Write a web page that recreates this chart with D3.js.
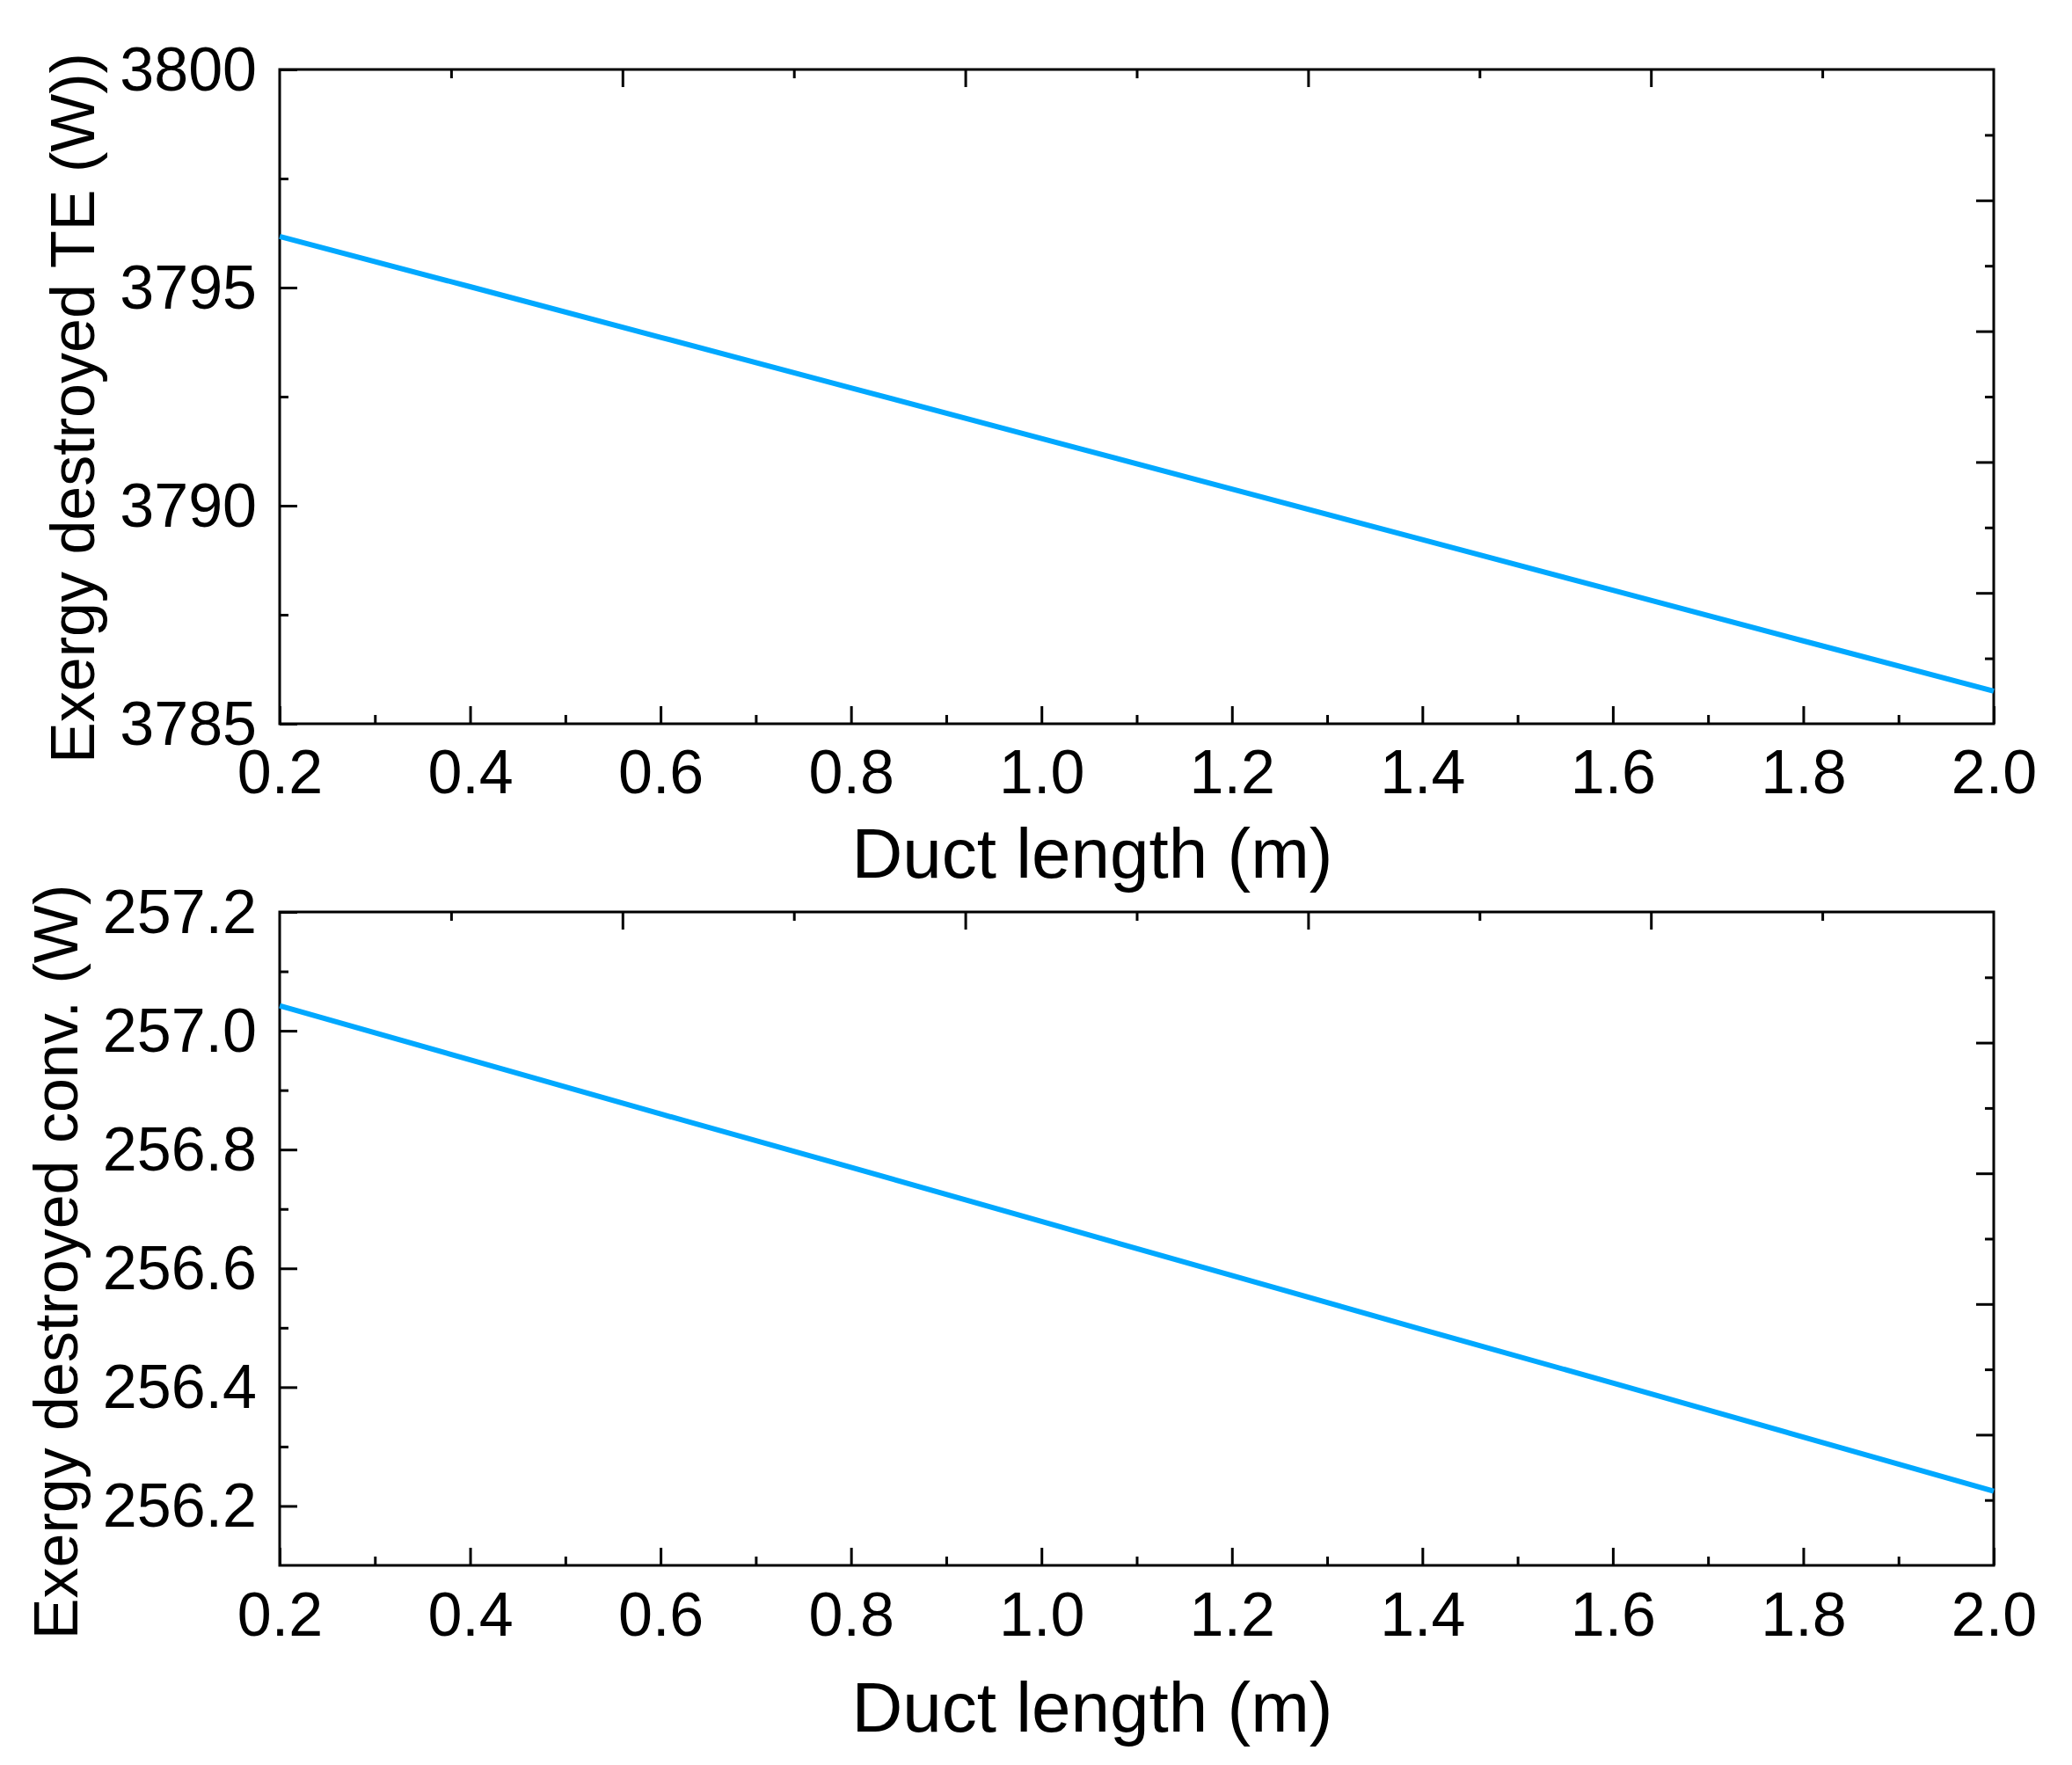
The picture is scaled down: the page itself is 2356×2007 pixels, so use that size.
<!DOCTYPE html>
<html>
<head>
<meta charset="utf-8">
<script src="https://cdn.jsdelivr.net/npm/d3@7"></script>
<style>
  body { margin: 0; background: #fff; }
  text { font-family: "Liberation Sans", Arial, sans-serif; fill: #000; }
  .domain { display: none; }
</style>
</head>
<body>
<div id="chart"></div>
<script>
// duct length values (m)
var ductLength = [0.2, 0.4, 0.6, 0.8, 1.0, 1.2, 1.4, 1.6, 1.8, 2.0];
// exergy destroyed in the TE module (W)
var exergyTE = [3796.17, 3795.02, 3793.86, 3792.70, 3791.54, 3790.38, 3789.22, 3788.06, 3786.90, 3785.75];
// exergy destroyed by convection (W)
var exergyConv = [257.042, 256.951, 256.860, 256.770, 256.679, 256.588, 256.497, 256.407, 256.316, 256.225];

var xTicks = [0.2, 0.4, 0.6, 0.8, 1.0, 1.2, 1.4, 1.6, 1.8, 2.0];
var teTicks = [3785, 3790, 3795, 3800];
var convTicks = [256.2, 256.4, 256.6, 256.8, 257.0, 257.2];

var W = 2356, H = 2007;
var left = 318, right = 2267;

var panels = [
  { top: 79, bottom: 823, ys: exergyTE, domain: [3785, 3800], ticks: teTicks, minorStep: 2.5,
    fmt: d3.format("d"), ytitle: "Exergy destroyed TE (W))", ytitleX: 107, ytitleY: 464,
    xlabelY: 902, xtitleY: 998 },
  { top: 1037, bottom: 1780, ys: exergyConv, domain: [256.1, 257.2], ticks: convTicks, minorStep: 0.1,
    fmt: d3.format(".1f"), ytitle: "Exergy destroyed conv. (W)", ytitleX: 88, ytitleY: 1435,
    xlabelY: 1860, xtitleY: 1969 }
];

var svg = d3.select("#chart").append("svg")
  .attr("width", W)
  .attr("height", H);

var x = d3.scaleLinear().domain([0.2, 2.0]).range([left, right]);
// top & right axes in the picture just split the frame into 10 parts
var xTop = d3.scaleLinear().domain([0, 10]).range([left, right]);

panels.forEach(function(p) {
  var y = d3.scaleLinear().domain(p.domain).range([p.bottom, p.top]);
  var yRight = d3.scaleLinear().domain([0, 10]).range([p.top, p.bottom]);
  var g = svg.append("g");

  // minor x ticks
  var xMinor = d3.range(0.3, 2.0, 0.2);
  g.append("g")
    .attr("transform", "translate(0," + p.bottom + ")")
    .call(d3.axisBottom(x).tickValues(xMinor).tickSize(-10).tickFormat(""));
  // major x ticks + labels
  g.append("g")
    .attr("transform", "translate(0," + p.bottom + ")")
    .call(d3.axisBottom(x).tickValues(xTicks).tickSize(-20).tickFormat(d3.format(".1f")))
    .selectAll("text")
      .attr("y", p.xlabelY - p.bottom)
      .attr("dy", 0)
      .style("font-size", "70px");

  // minor y ticks
  var yMinor = [];
  for (var v = p.domain[0]; v <= p.domain[1] + 1e-9; v += p.minorStep) {
    var isMajor = p.ticks.some(function(t) { return Math.abs(t - v) < 1e-6; });
    if (!isMajor && y(v) > p.top + 1 && y(v) < p.bottom - 1) yMinor.push(v);
  }
  g.append("g")
    .attr("transform", "translate(" + left + ",0)")
    .call(d3.axisLeft(y).tickValues(yMinor).tickSize(-10).tickFormat(""));
  // major y ticks + labels
  g.append("g")
    .attr("transform", "translate(" + left + ",0)")
    .call(d3.axisLeft(y).tickValues(p.ticks).tickSize(-20).tickFormat(p.fmt))
    .selectAll("text")
      .attr("x", -26)
      .attr("dy", "0.33em")
      .style("font-size", "70px");

  // top and right ticks: long on even, short on odd
  var topVals = d3.range(1, 10);
  g.append("g")
    .attr("transform", "translate(0," + p.top + ")")
    .call(d3.axisTop(xTop).tickValues(topVals).tickFormat(""))
    .selectAll(".tick line")
      .attr("y2", function(d) { return d % 2 === 0 ? 20 : 10; });
  g.append("g")
    .attr("transform", "translate(" + right + ",0)")
    .call(d3.axisRight(yRight).tickValues(topVals).tickFormat(""))
    .selectAll(".tick line")
      .attr("x2", function(d) { return d % 2 === 0 ? -20 : -10; });

  g.selectAll("g.tick line")
    .attr("stroke", "#000")
    .attr("stroke-width", 3);

  // frame
  g.append("rect")
    .attr("x", left)
    .attr("y", p.top)
    .attr("width", right - left)
    .attr("height", p.bottom - p.top)
    .attr("fill", "none")
    .attr("stroke", "#000")
    .attr("stroke-width", 3);

  // data line
  var line = d3.line()
    .x(function(d, i) { return x(ductLength[i]); })
    .y(function(d) { return y(d); });
  g.append("path")
    .datum(p.ys)
    .attr("d", line)
    .attr("fill", "none")
    .attr("stroke", "#00A8FF")
    .attr("stroke-width", 6);

  // axis titles
  g.append("text")
    .attr("x", 1242)
    .attr("y", p.xtitleY)
    .attr("text-anchor", "middle")
    .style("font-size", "80px")
    .text("Duct length (m)");
  g.append("text")
    .attr("transform", "translate(" + p.ytitleX + "," + p.ytitleY + ")rotate(-90)")
    .attr("text-anchor", "middle")
    .style("font-size", "70px")
    .text(p.ytitle);
});

svg.selectAll(".tick text").style("fill", "#000");
</script>
</body>
</html>
